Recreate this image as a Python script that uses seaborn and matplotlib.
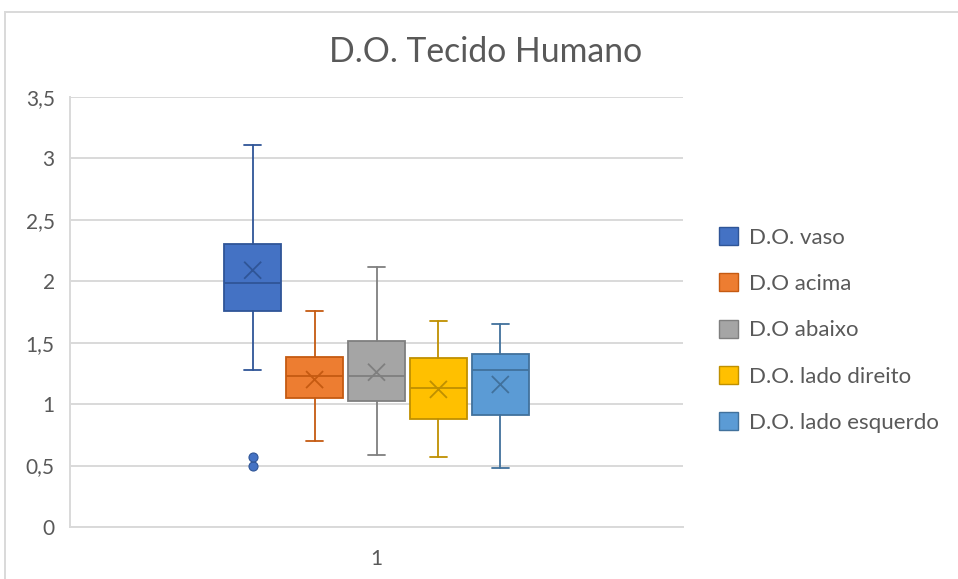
import matplotlib
matplotlib.use("Agg")
import matplotlib.pyplot as plt
from matplotlib.patches import Patch, Rectangle
import seaborn as sns
import pandas as pd

# Series names and Office-style colours
groups = ["D.O. vaso", "D.O acima", "D.O abaixo", "D.O. lado direito", "D.O. lado esquerdo"]
fill_colors = ["#4472C4", "#ED7D31", "#A5A5A5", "#FFC000", "#5B9BD5"]
edge_colors = ["#2F5597", "#C55A11", "#7F7F7F", "#BF9000", "#41719C"]

# Five-number summaries, means and outliers per series
whisker_low = [1.28, 0.70, 0.59, 0.57, 0.48]
q1 = [1.76, 1.05, 1.025, 0.88, 0.91]
median = [1.985, 1.23, 1.23, 1.13, 1.28]
q3 = [2.30, 1.38, 1.51, 1.375, 1.41]
whisker_high = [3.11, 1.76, 2.12, 1.68, 1.65]
means = [2.09, 1.20, 1.26, 1.12, 1.16]
outliers = [[0.50, 0.57], [], [], [], []]

category = ["1"]
y_ticks = [0, 0.5, 1, 1.5, 2, 2.5, 3, 3.5]
y_tick_labels = ["0", "0,5", "1", "1,5", "2", "2,5", "3", "3,5"]

sns.set_theme(style="white")
plt.rcParams["font.family"] = ["Lato", "DejaVu Sans"]
text_color = "#595959"
grid_color = "#D9D9D9"

fig = plt.figure(figsize=(9.58, 5.79), dpi=100)
ax = fig.add_axes([70 / 958, 1 - 527 / 579, 613 / 958, 430 / 579])

# Dodge the five boxes around the single category
n = len(groups)
step = 0.101
positions = [(i - (n - 1) / 2) * step for i in range(n)]

stats = []
for i, g in enumerate(groups):
    stats.append(dict(label=g, whislo=whisker_low[i], q1=q1[i], med=median[i],
                      q3=q3[i], whishi=whisker_high[i], mean=means[i],
                      fliers=outliers[i]))

for i in range(n):
    ax.bxp([stats[i]], positions=[positions[i]], widths=0.093, capwidths=0.028,
           patch_artist=True, showmeans=False, showfliers=True,
           boxprops=dict(facecolor=fill_colors[i], edgecolor=edge_colors[i], linewidth=1.3),
           whiskerprops=dict(color=edge_colors[i], linewidth=1.3),
           capprops=dict(color=edge_colors[i], linewidth=1.3),
           medianprops=dict(color=edge_colors[i], linewidth=1.3),
           flierprops=dict(marker="o", markerfacecolor=fill_colors[i],
                           markeredgecolor=edge_colors[i], markersize=6.5,
                           markeredgewidth=0.8),
           manage_ticks=False, zorder=3)

# Mean markers
mean_df = pd.DataFrame({"pos": positions, "mean": means, "group": groups})
sns.scatterplot(data=mean_df, x="pos", y="mean", hue="group",
                palette=dict(zip(groups, edge_colors)), marker="x", s=150,
                linewidth=1.3, legend=False, ax=ax, zorder=4)

ax.set_xlim(-0.5, 0.5)
ax.set_ylim(0, 3.5)
ax.set_xticks([0])
ax.set_xticklabels(category)
ax.set_yticks(y_ticks)
ax.set_yticklabels(y_tick_labels)
ax.set_xlabel("")
ax.set_ylabel("")
ax.tick_params(axis="both", length=0, labelsize=15, colors=text_color)
ax.tick_params(axis="y", pad=11)
ax.tick_params(axis="x", pad=16)

ax.yaxis.grid(True, color=grid_color, linewidth=1.4)
ax.set_axisbelow(True)
for side in ["top", "right"]:
    ax.spines[side].set_visible(False)
ax.spines["left"].set_color(grid_color)
ax.spines["left"].set_linewidth(1.4)
ax.spines["bottom"].set_color(grid_color)
ax.spines["bottom"].set_linewidth(1.4)

fig.text(486 / 958, 1 - 52 / 579, "D.O. Tecido Humano", ha="center", va="center",
         fontsize=24.3, color=text_color)

handles = [Patch(facecolor=fill_colors[i], edgecolor=edge_colors[i], linewidth=1.0)
           for i in range(n)]
fig.legend(handles, groups, loc="upper left", bbox_to_anchor=(708 / 958, 1 - 216 / 579),
           frameon=False, fontsize=16, handlelength=0.85, handleheight=0.85,
           handletextpad=0.5, labelspacing=1.16, borderpad=0, labelcolor=text_color)

# Chart area border
fig.patches.append(Rectangle((5 / 958, -0.1), 1.2, 1.1 - 12 / 579,
                             transform=fig.transFigure, fill=False,
                             edgecolor=grid_color, linewidth=1.4))

fig.savefig("out.png", dpi=100)
